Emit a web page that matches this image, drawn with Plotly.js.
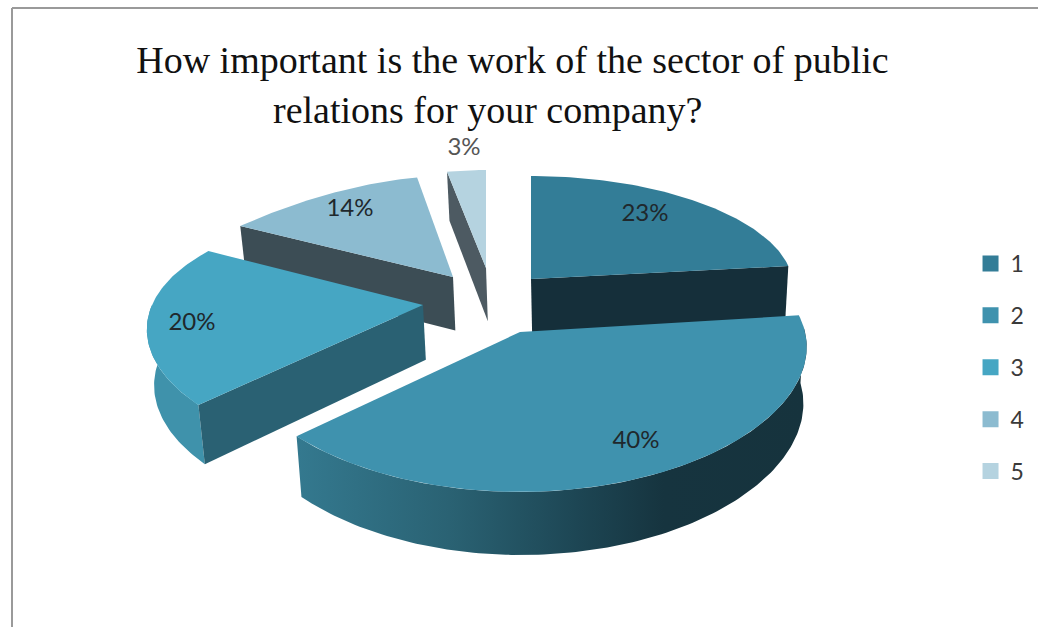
<!DOCTYPE html>
<html>
<head>
<meta charset="utf-8">
<script src="https://cdn.plot.ly/plotly-3.0.1.min.js"></script>
<style>html,body{margin:0;padding:0;background:#fff;overflow:hidden}#chart{width:1038px;height:627px}</style>
</head>
<body>
<div id="chart"></div>
<script>
var titleLine1 = 'How important is the work of the sector of public';
var titleLine2 = 'relations for your company?';
var categories = ['1', '2', '3', '4', '5'];
var shares = [23, 40, 20, 14, 3];

var topColors = ['#337d97', '#3f92ae', '#46a6c3', '#8cbbd0', '#b5d3e0'];
var cutWallColors = ['#152f3a', null, '#2a6173', '#3c4d55', '#4d5a62'];
var legendColors = ['#337d97', '#3f92ae', '#46a6c3', '#8cbbd0', '#b5d3e0'];
var labelColors = ['#20282c', '#20282c', '#20282c', '#20282c', '#555555'];

// view geometry of each exploded slice: apex, radii and perspective
var apexX = [531, 520, 423, 453, 486];
var apexY = [279, 332, 305, 277, 268];
var radiusX = [261, 285, 271, 292, 208];
var radiusY = [103, 136, 126, 110, 98];
var perspX = [0.05, 0.11, 0.2, 0.35, 0];
var perspY = [0, 0.176, 0.233, 0.08, 0];
var labelX = [645, 636, 192, 350, 464];
var labelY = [215, 442, 324, 210, 149];

var RAD = Math.PI / 180;
var starts = [], ends = [];
(function () {
  var total = shares.reduce(function (a, b) { return a + b; }, 0), run = 0;
  shares.forEach(function (v) {
    starts.push(run / total * 360);
    run += v;
    ends.push(run / total * 360);
  });
})();

function rim(i, deg) {
  var s = Math.sin(deg * RAD), c = Math.cos(deg * RAD);
  return [apexX[i] + radiusX[i] * s * (1 - perspX[i] * c),
          apexY[i] - radiusY[i] * c * (1 - perspY[i] * c)];
}
function drop(p) {
  return [p[0] + 0.016 * (600 - p[0]), p[1] + 41.4 + 0.044 * p[1]];
}
function arc(i, a, b) {
  var pts = [], n = Math.max(8, Math.ceil(Math.abs(b - a)));
  for (var k = 0; k <= n; k++) pts.push(rim(i, a + (b - a) * k / n));
  return pts;
}
function poly(pts, color, gradient) {
  var t = {
    type: 'scatter', mode: 'lines', fill: 'toself',
    x: pts.map(function (p) { return p[0]; }).concat([pts[0][0]]),
    y: pts.map(function (p) { return p[1]; }).concat([pts[0][1]]),
    line: { width: 0, color: color || 'rgba(0,0,0,0)' },
    hoverinfo: 'skip', showlegend: false
  };
  if (gradient) t.fillgradient = { type: 'horizontal', colorscale: gradient };
  else t.fillcolor = color;
  return t;
}
function topFace(i) {
  return poly([[apexX[i], apexY[i]]].concat(arc(i, starts[i], ends[i])), topColors[i]);
}
function cutWall(i, deg) {
  var a = [apexX[i], apexY[i]], b = rim(i, deg);
  return poly([a, b, drop(b), drop(a)], cutWallColors[i]);
}
function outerWall(i, a, b, color, gradient) {
  var upper = arc(i, a, b);
  return poly(upper.concat(upper.slice().reverse().map(drop)), color, gradient);
}

var traces = [];
// back to front
traces.push(cutWall(4, starts[4]));
traces.push(topFace(4));
traces.push(cutWall(3, starts[3]));
traces.push(topFace(3));
traces.push(cutWall(0, ends[0]));
traces.push(topFace(0));
traces.push(outerWall(2, starts[2], 270, '#3f92ab'));
traces.push(cutWall(2, starts[2]));
traces.push(topFace(2));
traces.push(outerWall(1, ends[1], 88, null, [[0, '#34798f'], [0.3, '#2a6273'], [0.55, '#1d4654'], [0.72, '#16343f'], [1, '#16333d']]));
traces.push(topFace(1));

traces.push({
  type: 'scatter', mode: 'text', x: labelX, y: labelY,
  text: shares.map(function (v) { return v + '%'; }),
  textfont: { family: 'Lato, sans-serif', size: 24, color: labelColors },
  textposition: 'middle center', hoverinfo: 'skip', showlegend: false
});

categories.forEach(function (c, i) {
  traces.push({
    type: 'scatter', mode: 'markers', x: [null], y: [null], name: c,
    legendgroup: c, marker: { symbol: 'square', size: 16, color: legendColors[i] },
    hoverinfo: 'skip'
  });
});

var titleFont = { family: '"Liberation Serif", serif', size: 38, color: '#111' };

var layout = {
  width: 1038, height: 627,
  margin: { l: 0, r: 0, t: 0, b: 0 },
  paper_bgcolor: '#fff', plot_bgcolor: '#fff',
  title: {
    text: titleLine1, x: 0.4937, xanchor: 'center', xref: 'paper',
    y: 0.904, yanchor: 'middle', yref: 'paper',
    font: titleFont
  },
  annotations: [
    { text: titleLine2, xref: 'x', yref: 'y', x: 487, y: 110, xanchor: 'center', yanchor: 'middle', showarrow: false, font: titleFont }
  ],
  xaxis: { range: [0, 1038], visible: false, fixedrange: true },
  yaxis: { range: [627, 0], visible: false, fixedrange: true },
  showlegend: true,
  legend: {
    x: 0.935, xanchor: 'left', y: 0.614, yanchor: 'top',
    tracegroupgap: 19, itemwidth: 30, bgcolor: 'rgba(0,0,0,0)',
    font: { family: 'Lato, sans-serif', size: 23, color: '#3a3a3a' }
  },
  shapes: [
    { type: 'line', xref: 'x', yref: 'y', x0: 12, x1: 12, y0: 8, y1: 627, line: { color: '#9a9a9a', width: 2 } },
    { type: 'line', xref: 'x', yref: 'y', x0: 12, x1: 1038, y0: 8, y1: 8, line: { color: '#9a9a9a', width: 2 } }
  ]
};
Plotly.newPlot('chart', traces, layout, { displayModeBar: false, staticPlot: true });
</script>
</body>
</html>
